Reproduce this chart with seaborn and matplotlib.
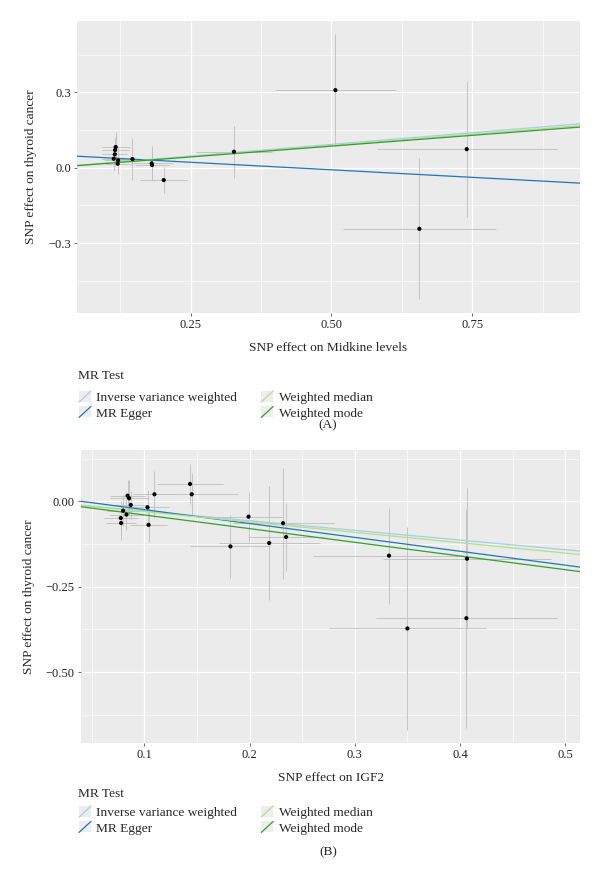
import numpy as np
import pandas as pd
import matplotlib
matplotlib.use('Agg')
import matplotlib.pyplot as plt
import seaborn as sns
from matplotlib.legend_handler import HandlerBase
from matplotlib.patches import Rectangle
from matplotlib.lines import Line2D

sns.set_theme(style='darkgrid')
plt.rcParams['font.family'] = ['Liberation Serif', 'DejaVu Serif']

# Panel A: Midkine levels -> thyroid cancer
a_x = [0.1172, 0.1160, 0.1155, 0.1137, 0.1214, 0.1208, 0.1469, 0.1810, 0.1816, 0.2024,
       0.327, 0.507, 0.740, 0.656]
a_y = [0.0825, 0.0705, 0.0534, 0.0359, 0.0295, 0.0159, 0.0347, 0.0175, 0.0108, -0.049,
       0.064, 0.309, 0.074, -0.243]
a_xse = [0.025, 0.024, 0.022, 0.020, 0.025, 0.023, 0.033, 0.037, 0.030, 0.042,
         0.067, 0.107, 0.160, 0.136]
a_yse = [0.060, 0.050, 0.045, 0.050, 0.055, 0.040, 0.082, 0.068, 0.060, 0.053,
         0.103, 0.224, 0.270, 0.280]

# Panel B: IGF2 -> thyroid cancer
b_x = [0.0840, 0.0855, 0.0871, 0.0798, 0.0776, 0.0779, 0.0830, 0.1030, 0.1040, 0.1096,
       0.1434, 0.1450, 0.199, 0.1818, 0.2186, 0.2318, 0.2347, 0.3325, 0.4066, 0.406, 0.350]
b_y = [0.0164, 0.0088, -0.0108, -0.0275, -0.049, -0.0636, -0.039, -0.0176, -0.069, 0.0205,
       0.0507, 0.0205, -0.045, -0.132, -0.122, -0.064, -0.1045, -0.159, -0.168, -0.342, -0.372]
b_xse = [0.017, 0.018, 0.016, 0.015, 0.016, 0.014, 0.017, 0.020, 0.018, 0.020,
         0.031, 0.044, 0.033, 0.038, 0.048, 0.048, 0.036, 0.072, 0.080, 0.086, 0.075]
b_yse = [0.045, 0.053, 0.040, 0.045, 0.050, 0.050, 0.045, 0.050, 0.050, 0.068,
         0.058, 0.061, 0.073, 0.093, 0.166, 0.162, 0.100, 0.140, 0.206, 0.320, 0.297]

methods = ['Inverse variance weighted', 'MR Egger', 'Weighted median', 'Weighted mode']
method_colors = ['#a6cee3', '#1f78b4', '#b2df8a', '#33a02c']
a_intercept = [0.0, 0.0518, 0.0, 0.0]
a_slope = [0.186, -0.120, 0.178, 0.172]
b_intercept = [0.0, 0.0162, 0.0, 0.0]
b_slope = [-0.2835, -0.406, -0.303, -0.400]


class AblineKey(HandlerBase):
    # ggplot style key: grey box with a diagonal line
    def create_artists(self, legend, orig_handle, xdescent, ydescent, width, height, fontsize, trans):
        bg = Rectangle((-xdescent, -ydescent), width, height, facecolor='#EDEDED',
                       edgecolor='none', transform=trans)
        ln = Line2D([-xdescent, -xdescent + width], [-ydescent, -ydescent + height],
                    color=orig_handle.get_color(), lw=0.9, transform=trans)
        return [bg, ln]


def draw_panel(ax, x, y, xse, yse, ints, slopes, xlim, ylim, xticks, yticks, xminor, yminor,
               ytick_labels, xtick_labels, xlabel):
    df = pd.DataFrame({'x': x, 'y': y, 'xse': xse, 'yse': yse})
    ax.set_facecolor('#EBEBEB')
    ax.errorbar(df['x'], df['y'], yerr=df['yse'], fmt='none', ecolor='#BEBEBE', elinewidth=0.6, zorder=2)
    ax.errorbar(df['x'], df['y'], xerr=df['xse'], fmt='none', ecolor='#BEBEBE', elinewidth=0.6, zorder=2)
    handles = []
    for m, c, b0, b1 in zip(methods, method_colors, ints, slopes):
        h = ax.axline((0, b0), slope=b1, color=c, lw=0.9, zorder=3, label=m)
        handles.append(h)
    sns.scatterplot(data=df, x='x', y='y', ax=ax, color='black', s=9, edgecolor='none',
                    zorder=4, legend=False)
    if ax.get_legend() is not None:
        ax.get_legend().remove()
    ax.set_xlim(*xlim)
    ax.set_ylim(*ylim)
    ax.set_xticks(xticks)
    ax.set_xticklabels(xtick_labels)
    ax.set_yticks(yticks)
    ax.set_yticklabels(ytick_labels)
    ax.set_xticks(xminor, minor=True)
    ax.set_yticks(yminor, minor=True)
    ax.grid(which='major', color='white', lw=0.9)
    ax.grid(which='minor', color='white', lw=0.4)
    for s in ax.spines.values():
        s.set_visible(False)
    ax.tick_params(which='major', length=2.5, width=0.5, color='#333333', labelsize=9,
                   labelcolor='#222222', pad=2, bottom=True, left=True)
    ax.tick_params(which='minor', length=0)
    ax.set_xlabel(xlabel, fontsize=9.6, labelpad=8)
    ax.set_ylabel('SNP effect on thyroid cancer', fontsize=9.6, labelpad=8)
    return handles


fig = plt.figure(figsize=(6, 8.8), dpi=100)

ax1 = fig.add_axes([77 / 600, 1 - 313 / 880, 503 / 600, 292 / 880])
h1 = draw_panel(ax1, a_x, a_y, a_xse, a_yse, a_intercept, a_slope,
                (0.0485, 0.941), (-0.578, 0.584),
                [0.25, 0.5, 0.75], [-0.3, 0.0, 0.3],
                [0.125, 0.375, 0.625, 0.875], [-0.45, -0.15, 0.15, 0.45],
                ['\u22120.3', '0.0', '0.3'], ['0.25', '0.50', '0.75'],
                'SNP effect on Midkine levels')

ax2 = fig.add_axes([81 / 600, 1 - 743 / 880, 499 / 600, 293 / 880])
h2 = draw_panel(ax2, b_x, b_y, b_xse, b_yse, b_intercept, b_slope,
                (0.0398, 0.514), (-0.707, 0.150),
                [0.1, 0.2, 0.3, 0.4, 0.5], [-0.5, -0.25, 0.0],
                [0.05, 0.15, 0.25, 0.35, 0.45], [-0.625, -0.375, -0.125, 0.125],
                ['\u22120.50', '\u22120.25', '0.00'], ['0.1', '0.2', '0.3', '0.4', '0.5'],
                'SNP effect on IGF2')

for handles, title_y, top, tag, tag_y in [(h1, 376, 391, '(A)', 425), (h2, 794, 806, '(B)', 852)]:
    fig.text(78 / 600, 1 - title_y / 880, 'MR Test', ha='left', va='center', fontsize=9.6)
    leg = fig.legend(handles=handles, labels=methods, ncol=2, loc='upper left',
                     bbox_to_anchor=(79 / 600, 1 - top / 880), frameon=False,
                     fontsize=9.6, borderpad=0, borderaxespad=0,
                     handler_map={h: AblineKey() for h in handles},
                     handlelength=0.9, handleheight=0.9, handletextpad=0.4,
                     columnspacing=1.8, labelspacing=0.17)
    fig.text(328 / 600, 1 - tag_y / 880, tag, ha='center', va='center', fontsize=9.6)

fig.savefig('out.png', dpi=100)
